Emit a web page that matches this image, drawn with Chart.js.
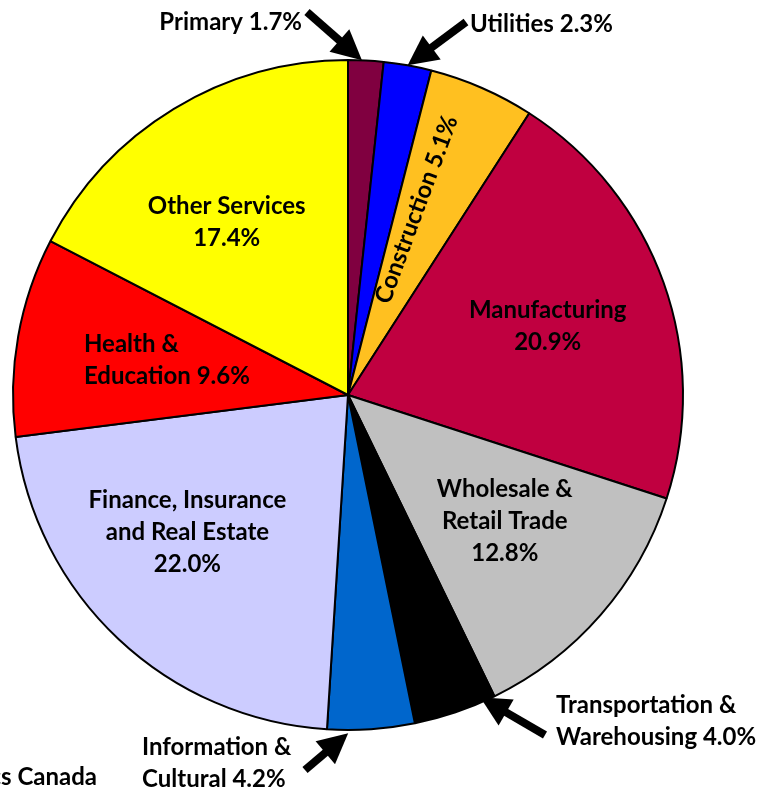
<!DOCTYPE html>
<html>
<head>
<meta charset="utf-8">
<script src="https://cdn.jsdelivr.net/npm/chart.js@4"></script>
<style>
  html, body { margin: 0; padding: 0; background: #fff; }
  #wrap { width: 768px; height: 791px; }
</style>
</head>
<body>
<div id="wrap"><canvas id="pie"></canvas></div>
<script>
// Sector shares (%), clockwise from 12 o'clock
const sectors = ['Primary', 'Utilities', 'Construction', 'Manufacturing', 'Wholesale & Retail Trade',
    'Transportation & Warehousing', 'Information & Cultural', 'Finance, Insurance and Real Estate',
    'Health & Education', 'Other Services'];
const shares = [1.7, 2.3, 5.1, 20.9, 12.8, 4.0, 4.2, 22.0, 9.6, 17.4];
const sliceColors = ['#800040', '#0000ff', '#ffc020', '#c00040', '#c0c0c0',
    '#000000', '#0066cc', '#ccccff', '#ff0000', '#ffff00'];
// label text lines for each slice
const labelLines = [
    ['Primary 1.7%'],
    ['Utilities 2.3%'],
    ['Construction 5.1%'],
    ['Manufacturing', '20.9%'],
    ['Wholesale &', 'Retail Trade', '12.8%'],
    ['Transportation &', 'Warehousing 4.0%'],
    ['Information &', 'Cultural 4.2%'],
    ['Finance, Insurance', 'and Real Estate', '22.0%'],
    ['Health &', 'Education 9.6%'],
    ['Other Services', '17.4%']
];
const sourceNote = 'Source: Statistics Canada';

const FONT = 'bold 24px Lato, "DejaVu Sans", sans-serif';
const LINE_H = 32;

// where each label goes: inside (t = fraction through slice, r = fraction of radius)
// or outside with an arrow (tip on the slice, tail + text placed beside the pie)
const labelSpots = [
    { out: true, tipT: 0.39, tipR: 1.0, tail: [307, 12], text: [302, 22], align: 'right' },
    { out: true, tipT: 0.5, tipR: 1.0, tail: [466, 22], text: [470, 24], align: 'left' },
    { t: 0.32, r: 0.59, rotate: true },
    { t: 0.51, r: 0.63 },
    { t: 0.45, r: 0.60 },
    { out: true, tipT: 0.16, tipR: 0.985, tail: [545, 735], text: [556, 705], align: 'left' },
    { out: true, tipT: 0.76, tipR: 1.01, tail: [305, 770], text: [142, 747], align: 'left' },
    { t: 0.58, r: 0.63 },
    { t: 0.50, r: 0.60, leftAt: 84 },
    { t: 0.44, r: 0.63 }
];

function drawArrow(ctx, x0, y0, x1, y1) {
    const ang = Math.atan2(y1 - y0, x1 - x0);
    const headLen = 30, headW = 15;
    const bx = x1 - headLen * Math.cos(ang), by = y1 - headLen * Math.sin(ang);
    ctx.save();
    ctx.strokeStyle = '#000';
    ctx.fillStyle = '#000';
    ctx.lineWidth = 8;
    ctx.beginPath();
    ctx.moveTo(x0, y0);
    ctx.lineTo(bx + 2 * Math.cos(ang), by + 2 * Math.sin(ang));
    ctx.stroke();
    ctx.beginPath();
    ctx.moveTo(x1, y1);
    ctx.lineTo(bx + headW * Math.sin(ang), by - headW * Math.cos(ang));
    ctx.lineTo(bx - headW * Math.sin(ang), by + headW * Math.cos(ang));
    ctx.closePath();
    ctx.fill();
    ctx.restore();
}

const sliceLabels = {
    id: 'sliceLabels',
    afterDatasetsDraw(chart) {
        const ctx = chart.ctx;
        const arcs = chart.getDatasetMeta(0).data;
        ctx.save();
        ctx.font = FONT;
        ctx.fillStyle = '#000';
        ctx.textBaseline = 'middle';
        arcs.forEach((arc, i) => {
            const { x, y, startAngle, endAngle, outerRadius } = arc.getProps(['x', 'y', 'startAngle', 'endAngle', 'outerRadius'], true);
            const spot = labelSpots[i];
            const lines = labelLines[i];
            if (spot.out) {
                const a = startAngle + spot.tipT * (endAngle - startAngle);
                const tx = x + Math.cos(a) * outerRadius * spot.tipR;
                const ty = y + Math.sin(a) * outerRadius * spot.tipR;
                drawArrow(ctx, spot.tail[0], spot.tail[1], tx, ty);
                ctx.textAlign = spot.align;
                lines.forEach((ln, k) => ctx.fillText(ln, spot.text[0], spot.text[1] + k * LINE_H));
                return;
            }
            const a = startAngle + spot.t * (endAngle - startAngle);
            const cx = x + Math.cos(a) * outerRadius * spot.r;
            const cy = y + Math.sin(a) * outerRadius * spot.r;
            if (spot.rotate) {
                ctx.save();
                ctx.translate(cx, cy);
                ctx.rotate(a);
                ctx.textAlign = 'center';
                ctx.fillText(lines[0], 0, 0);
                ctx.restore();
                return;
            }
            const top = cy - (lines.length - 1) * LINE_H / 2;
            if (spot.leftAt) {
                ctx.textAlign = 'left';
                lines.forEach((ln, k) => ctx.fillText(ln, spot.leftAt, top + k * LINE_H));
            } else {
                ctx.textAlign = 'center';
                lines.forEach((ln, k) => ctx.fillText(ln, cx, top + k * LINE_H));
            }
        });
        // source note, partly cut off at the left edge
        ctx.textAlign = 'right';
        ctx.fillText(sourceNote, 97, 777);
        ctx.restore();
    }
};

new Chart(document.getElementById('pie').getContext('2d'), {
    type: 'pie',
    data: {
        labels: sectors,
        datasets: [{
            data: shares,
            backgroundColor: sliceColors,
            borderColor: '#000',
            borderWidth: 2
        }]
    },
    options: {
        responsive: true,
        maintainAspectRatio: false,
        animation: false,
        radius: 335,
        layout: { padding: { left: 0, right: 72, top: 0, bottom: 1 } },
        plugins: {
            legend: { display: false },
            tooltip: { enabled: false }
        }
    },
    plugins: [sliceLabels]
});
</script>
</body>
</html>
